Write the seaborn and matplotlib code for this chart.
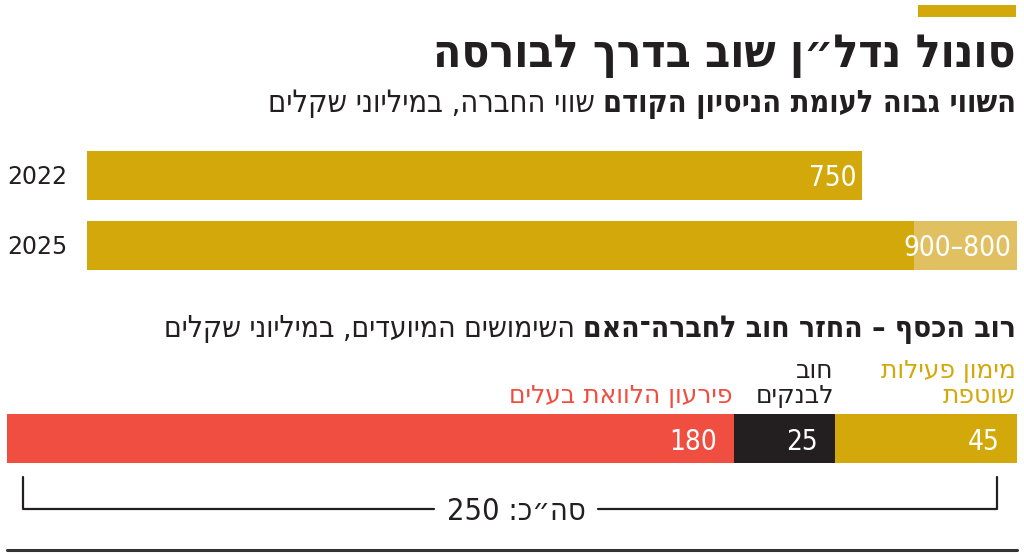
import re
import matplotlib
matplotlib.use("Agg")
import matplotlib.pyplot as plt
from matplotlib.lines import Line2D
from matplotlib.patches import Rectangle
import seaborn as sns
import numpy as np

# ---------------- data ----------------
title = "סונול נדל״ן שוב בדרך לבורסה"
sub1_bold = "השווי גבוה לעומת הניסיון הקודם"
sub1_reg = "שווי החברה, במיליוני שקלים"
years = ["2022", "2025"]
value_low = [750, 800]
value_high = [750, 900]

sub2_bold = "רוב הכסף – החזר חוב לחברה־האם"
sub2_reg = "השימושים המיועדים, במיליוני שקלים"
uses = ["מימון פעילות\nשוטפת", "חוב\nלבנקים", "פירעון הלוואת בעלים"]
use_values = [45, 25, 180]
total_label = "סה״כ:"

# ---------------- style ----------------
GOLD = "#D3A80A"
LIGHT_GOLD = "#E1C062"
RED = "#F04E41"
BLACK = "#231F20"
use_colors = [GOLD, BLACK, RED]

sns.set_theme(style="white")
plt.rcParams["font.family"] = ["DejaVu Sans"]

W, H = 1024, 555
fig = plt.figure(figsize=(W / 100, H / 100), dpi=100)


def vis(s):
    """logical RTL string -> visual order (keep digit runs)"""
    out = []
    for line in s.split("\n"):
        r = line[::-1]
        r = re.sub(r"\d+", lambda m: m.group(0)[::-1], r)
        out.append(r)
    return "\n".join(out)


def fx(x):
    return x / W


def fy(y):
    return 1 - y / H


COND = dict(family="DejaVu Sans", fontstretch="condensed")

# decorative gold bar at top
fig.add_artist(Rectangle((fx(918), fy(17)), fx(1016) - fx(918), fy(5) - fy(17),
                         transform=fig.transFigure, color=GOLD, lw=0))

# title
fig.text(fx(1016), fy(67), vis(title), ha="right", va="baseline",
         fontsize=33, fontweight="bold", color=BLACK, **COND)

renderer = fig.canvas.get_renderer()


def two_part(y, bold, reg, size):
    t = fig.text(fx(1016), fy(y), vis(bold), ha="right", va="baseline",
                 fontsize=size, fontweight="bold", color=BLACK, **COND)
    bb = t.get_window_extent(renderer)
    fig.text((bb.x0 - 8) / W, fy(y), vis(reg), ha="right", va="baseline",
             fontsize=size, color=BLACK, **COND)


two_part(112, sub1_bold, sub1_reg, 22)

# ---------------- top chart ----------------
ax1 = fig.add_axes([fx(87), fy(280), fx(1017) - fx(87), fy(140) - fy(280)])
sns.barplot(x=value_high, y=years, color=LIGHT_GOLD, saturation=1, width=0.7,
            orient="h", errorbar=None, linewidth=0, ax=ax1)
sns.barplot(x=value_low, y=years, color=GOLD, saturation=1, width=0.7,
            orient="h", errorbar=None, linewidth=0, ax=ax1)
ax1.set_xlim(0, max(value_high))
ax1.set_ylim(len(years) - 0.5, -0.5)
for i, (lo, hi) in enumerate(zip(value_low, value_high)):
    lab = f"{lo}" if lo == hi else f"{hi}–{lo}"
    ax1.annotate(lab, xy=(hi, i), xytext=(-4, 0), textcoords="offset points",
                 ha="right", va="center_baseline", color="white", fontsize=20,
                 **COND)
ax1.set_xlabel("")
ax1.set_ylabel("")
ax1.set_xticks([])
ax1.tick_params(axis="y", length=0, pad=14, labelsize=17, labelcolor=BLACK)
for s in ax1.spines.values():
    s.set_visible(False)
ax1.patch.set_alpha(0)

# second heading
two_part(337, sub2_bold, sub2_reg, 21.5)

# ---------------- stacked bar ----------------
ax2 = fig.add_axes([fx(7), fy(473.5), fx(1017) - fx(7), fy(403.5) - fy(473.5)])
cum = np.cumsum(use_values)
starts = cum - np.array(use_values)
for c, col in reversed(list(zip(cum, use_colors))):
    sns.barplot(x=[c], y=["total"], color=col, saturation=1, width=0.7,
                orient="h", errorbar=None, linewidth=0, ax=ax2)
total = int(cum[-1])
ax2.set_xlim(total, 0)
ax2.set_ylim(0.5, -0.5)
for st, v, lab, col in zip(starts, use_values, uses, use_colors):
    ax2.annotate(str(v), xy=(st, 0), xytext=(-12.5, 0), textcoords="offset points",
                 ha="right", va="center_baseline", color="white", fontsize=20,
                 **COND)
    ax2.annotate(vis(lab), xy=(st, -0.35), xytext=(-1, 4.5), textcoords="offset points",
                 ha="right", va="bottom", color=col, fontsize=18, linespacing=1.02,
                 family="DejaVu Sans")
ax2.set_axis_off()

# total bracket
t = fig.text(fx(516), fy(511), f"{total} " + vis(total_label), ha="center",
             va="center", fontsize=22, color=BLACK, **COND)
bb = t.get_window_extent(renderer)
ytop, ybot = fy(477), fy(509)
lw = 1.6
fig.add_artist(Line2D([fx(23), fx(23), (bb.x0 - 13) / W], [ytop, ybot, ybot],
                      transform=fig.transFigure, color=BLACK, lw=lw))
fig.add_artist(Line2D([(bb.x1 + 13) / W, fx(997), fx(997)], [ybot, ybot, ytop],
                      transform=fig.transFigure, color=BLACK, lw=lw))

# bottom rule
fig.add_artist(Line2D([fx(7), fx(1017)], [fy(550), fy(550)],
                      transform=fig.transFigure, color="#333333", lw=2.2))

fig.savefig("out.png", dpi=100)
